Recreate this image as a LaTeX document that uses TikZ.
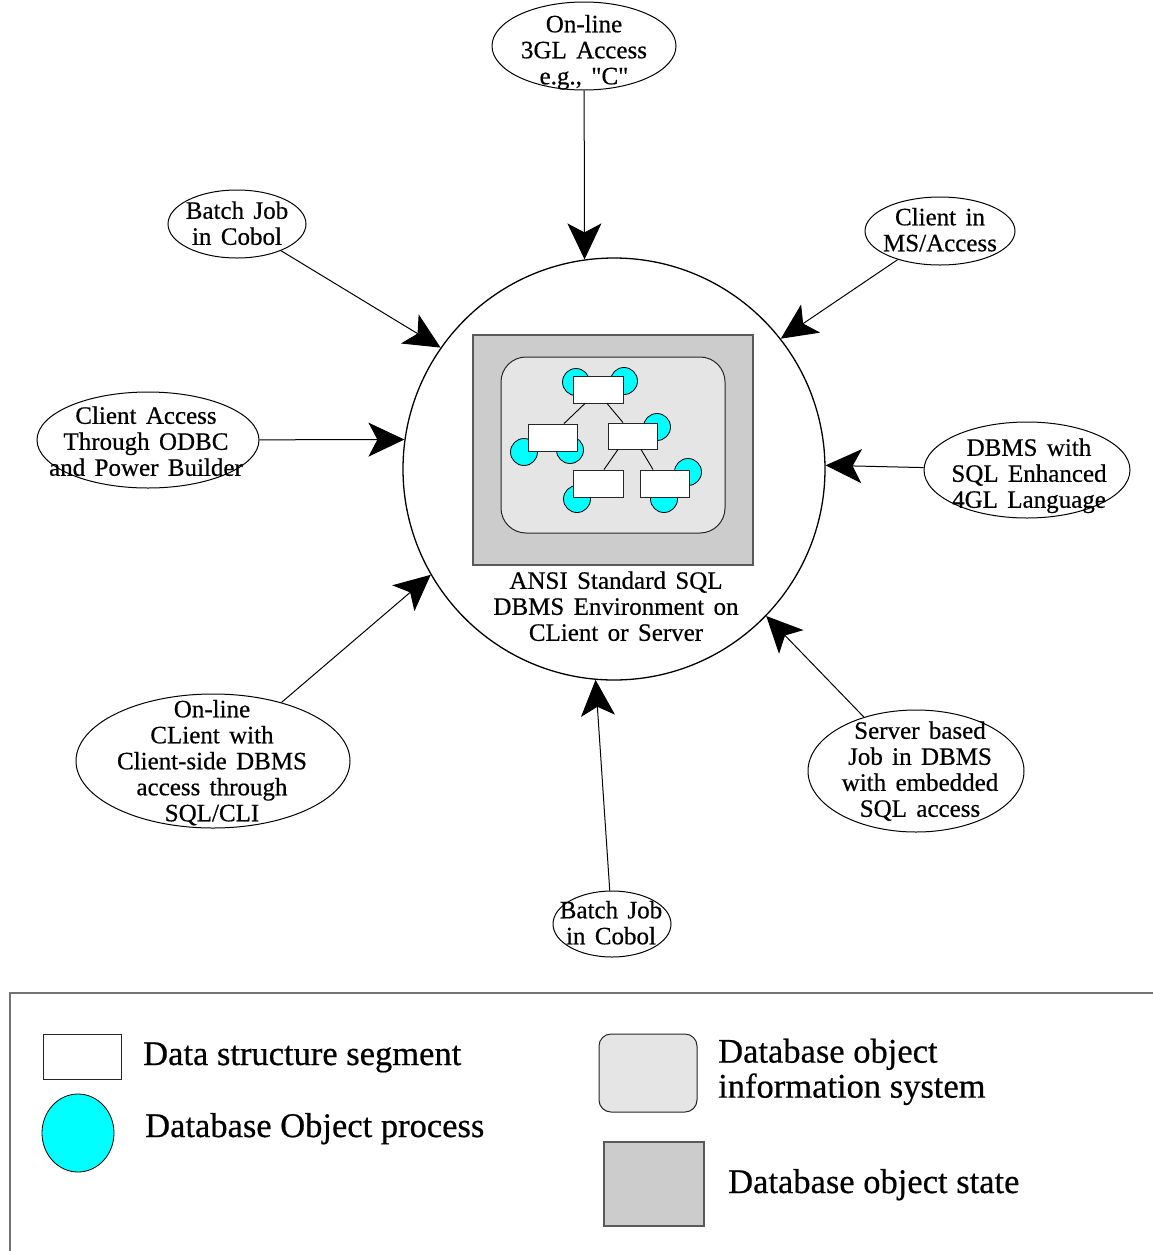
\documentclass[tikz,border=0pt]{standalone}
\usepackage{fontspec}
\setmainfont[FakeBold=0.5]{Liberation Serif}
\newfontfamily\ovalfont[WordSpace=1.5,FakeBold=0.5]{Liberation Serif}
\usetikzlibrary{shapes.geometric,arrows.meta}
\definecolor{aqua}{RGB}{0,255,255}
\begin{document}
\begin{tikzpicture}[x=1pt,y=-1pt,
  oval/.style={ellipse,draw,line width=1pt,inner sep=0pt},
  lbl/.style={align=center,inner sep=0pt,font=\ovalfont\fontsize{25}{26}\selectfont,
    execute at begin node=\strut,execute at end node=\strut},
  leg/.style={inner sep=0pt,font=\fontsize{34.5}{35}\selectfont},
  arr/.style={-{Stealth[length=36pt,width=34pt,inset=9pt]},line width=1pt},
  seg/.style={draw=black!85,fill=white,line width=0.9pt,inner sep=0pt},
  proc/.style={circle,draw,fill=aqua,line width=0.8pt,minimum size=27pt,inner sep=0pt},
  statebox/.style={draw=black!65,fill=black!20,line width=1.4pt,inner sep=0pt},
  infobox/.style={draw=black!85,fill=black!10,line width=1pt,inner sep=0pt},
  link/.style={line width=0.9pt}]
\useasboundingbox (0,0) rectangle (1153,1251);

% central environment
\node[circle,draw,line width=1.3pt,minimum size=422pt,inner sep=0pt] (c) at (614,469) {};
\node[statebox,minimum width=280pt,minimum height=230pt] (state) at (613,450) {};
\node[infobox,rounded corners=25pt,minimum width=224pt,minimum height=176pt] (info) at (613,445) {};

% processes (behind segments)
\node[proc] (p1) at (576,382) {};
\node[proc] (p2) at (624,381) {};
\node[proc] (p3) at (657,427) {};
\node[proc] (p4) at (524,452) {};
\node[proc] (p5) at (570,450) {};
\node[proc] (p6) at (577,499) {};
\node[proc] (p7) at (688,472) {};
\node[proc] (p8) at (664,499) {};

% segments
\node[seg,minimum width=50pt,minimum height=27pt] (r1) at (598,389.5) {};
\node[seg,minimum width=49pt,minimum height=27pt] (r2) at (552.5,437.5) {};
\node[seg,minimum width=49pt,minimum height=26pt] (r3) at (632.5,436) {};
\node[seg,minimum width=50pt,minimum height=27pt] (r4) at (598,483.5) {};
\node[seg,minimum width=49pt,minimum height=27pt] (r5) at (664.5,483.5) {};

\draw[link] ([xshift=-13pt]r1.south) -- ([xshift=11.5pt]r2.north);
\draw[link] ([xshift=9pt]r1.south) -- ([xshift=-9.5pt]r3.north);
\draw[link] ([xshift=-14.5pt]r3.south) -- ([xshift=6pt]r4.north);
\draw[link] ([xshift=8.5pt]r3.south) -- ([xshift=-11.5pt]r5.north);

\node[lbl] (ctext) at (616,610) {ANSI Standard SQL\\DBMS Environment on\\CLient or Server};

% satellites
\node[oval,minimum width=184pt,minimum height=88pt] (e1) at (584,46) {};
\node[lbl] (t1) at (584,53.5) {On-line\\3GL Access\\e.g., \char34 C\char34};

\node[oval,minimum width=138pt,minimum height=68pt] (e2) at (237,224) {};
\node[lbl] (t2) at (237,227) {Batch Job\\in Cobol};

\node[oval,minimum width=222pt,minimum height=96pt] (e3) at (148,440) {};
\node[lbl] (t3) at (146,445) {Client Access\\Through ODBC\\and Power Builder};

\node[oval,minimum width=274pt,minimum height=134pt] (e4) at (213,761) {};
\node[lbl] (t4) at (212,764.5) {On-line\\CLient with\\Client-side DBMS\\access through\\SQL/CLI};

\node[oval,minimum width=118pt,minimum height=66pt] (e5) at (612,924) {};
\node[lbl] (t5) at (611,926.5) {Batch Job\\in Cobol};

\node[oval,minimum width=216pt,minimum height=122pt] (e6) at (916,771) {};
\node[lbl] (t6) at (920,773) {Server based\\Job in DBMS\\with embedded\\SQL access};

\node[oval,minimum width=206pt,minimum height=96pt] (e7) at (1027,470) {};
\node[lbl] (t7) at (1029,477) {DBMS with\\SQL Enhanced\\4GL Language};

\node[oval,minimum width=150pt,minimum height=68pt] (e8) at (940,231) {};
\node[lbl] (t8) at (940,233.5) {Client in\\MS/Access};

% connectors
\draw[arr] (e1) -- (c.98.5);
\draw[arr] (e2) -- (c.145.4);
\draw[arr] (e3) -- (c.172.2);
\draw[arr] (e4) -- (c.210.7);
\draw[arr] (e5) -- (c.265.4);
\draw[arr] (e6) -- (c.316.5);
\draw[arr] (e7) -- (c.1.1);
\draw[arr] (e8) -- (c.38.9);

% legend
\coordinate (lgA) at (10,1251);
\coordinate (lgB) at (10,993);
\coordinate (lgC) at (1153,993);
\draw[black!55,line width=1.5pt] (lgA) -- (lgB) -- (lgC);

\node[seg,minimum width=78pt,minimum height=45pt] (lseg) at (82,1056.5) {};
\node[leg,anchor=base west] (lsegt) at (143,1065) {Data structure segment};

\node[ellipse,draw,fill=aqua,line width=0.8pt,inner sep=0pt,minimum width=72pt,minimum height=78pt] (lproc) at (78,1133) {};
\node[leg,anchor=base west] (lproct) at (145,1137) {Database Object process};

\node[infobox,rounded corners=12pt,minimum width=98pt,minimum height=78pt] (linfo) at (648,1073) {};
\node[leg,anchor=north west,align=left,execute at begin node=\strut] (linfot) at (718,1038.5) {Database object\\information system};

\node[statebox,minimum width=100pt,minimum height=84pt] (lstate) at (654,1184) {};
\node[leg,anchor=base west] (lstatet) at (728,1193) {Database object state};
\end{tikzpicture}
\end{document}
